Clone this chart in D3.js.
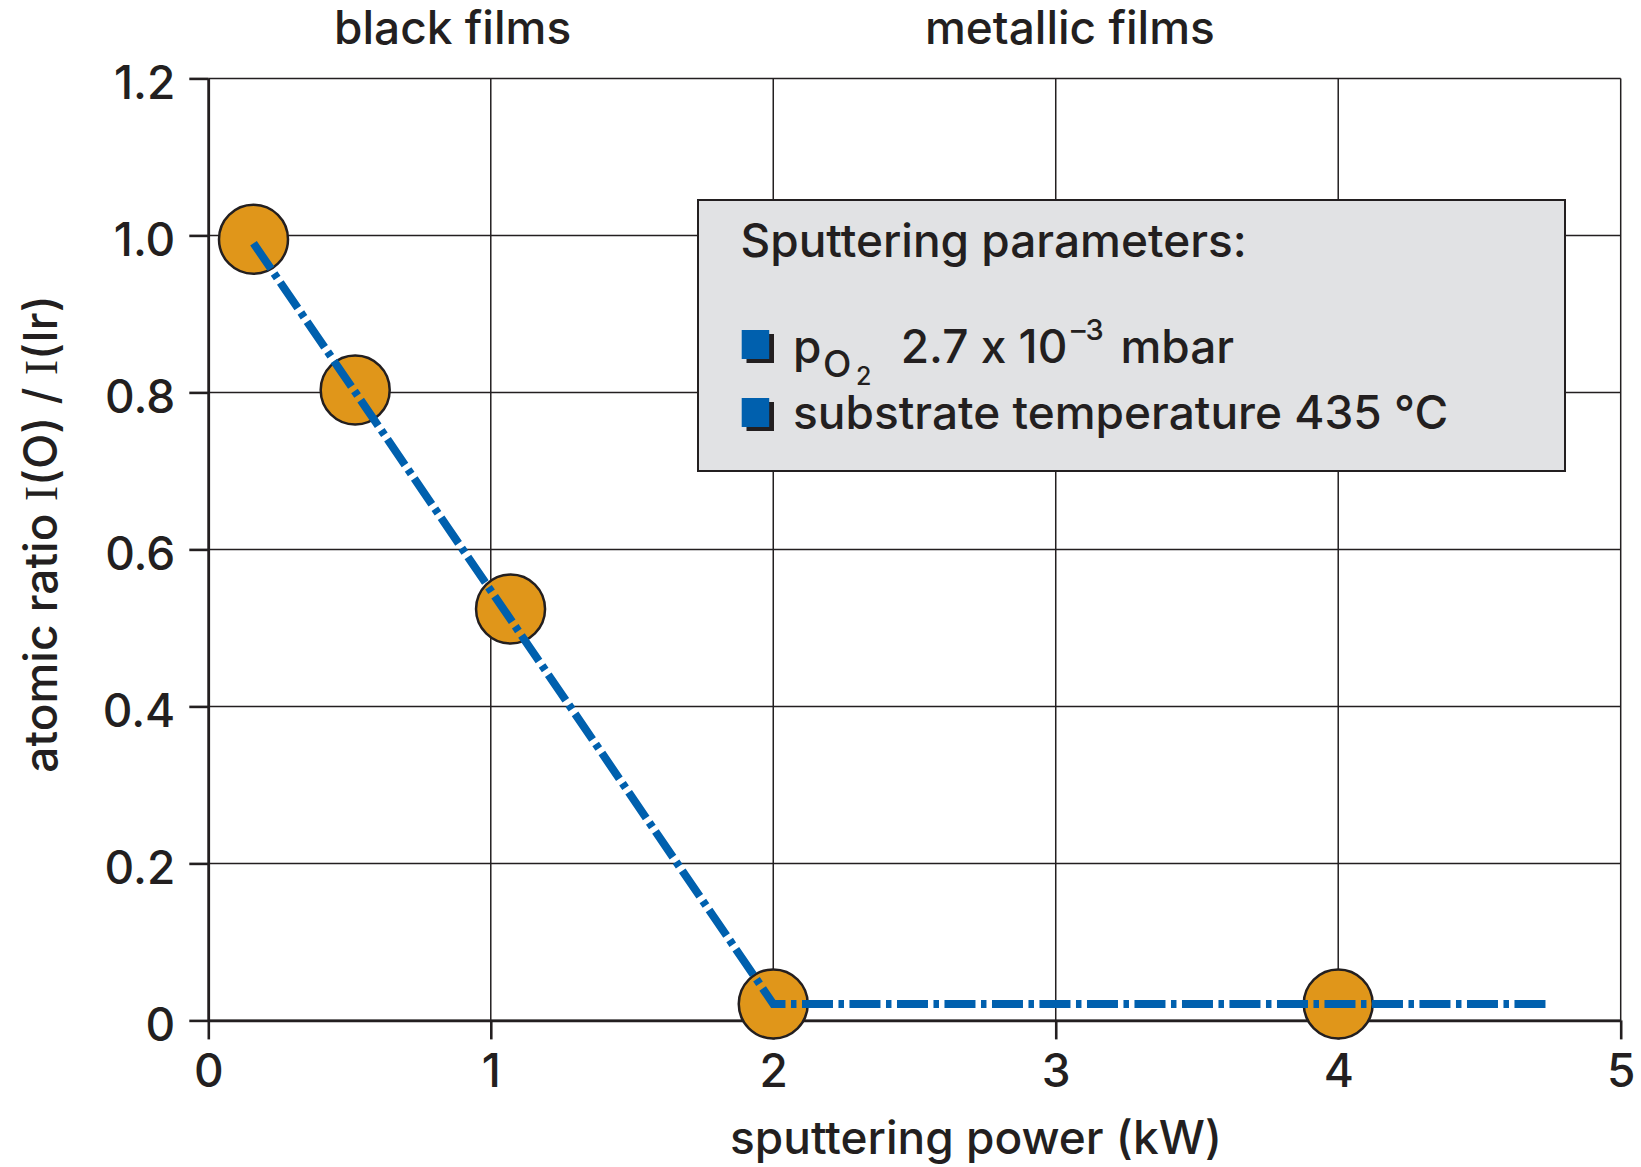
<!DOCTYPE html>
<html><head><meta charset="utf-8">
<script src="https://cdn.jsdelivr.net/npm/d3@7"></script>
<style>
body{margin:0;background:#fff}
text{font-family:Inter,"Liberation Sans",sans-serif;font-weight:525;fill:#231f20;font-feature-settings:"calt" 0}
</style>
</head><body><svg id="chart" width="1641" height="1167"></svg>
<script>
// ---- data ----
const powerKW  = [0.16, 0.52, 1.07, 2.0, 4.0];
const ratioOIr = [0.995, 0.803, 0.524, 0.021, 0.021];
const trendX = [0.16, 2.0, 4.75];
const trendY = [0.99, 0.021, 0.021];
const xTicks = [0, 1, 2, 3, 4, 5];
const yTicks = [0, 0.2, 0.4, 0.6, 0.8, 1.0, 1.2];
const regionLabels = ["black films", "metallic films"];
const regionAt = [0.865, 3.05];
const legendTitle = "Sputtering parameters:";

const ink = "#231f20", blue = "#0060ae", gold = "#e0961a", boxFill = "#e1e2e4";
const FS = 46;

const svg = d3.select("#chart");
const x = d3.scaleLinear().domain([0, 5]).range([208.3, 1620.7]);
const y = d3.scaleLinear().domain([0, 1.2]).range([1020.4, 78.4]);

// grid
const grid = svg.append("g");
grid.selectAll("line.v").data(xTicks).join("line").attr("class","v")
  .attr("x1", d => x(d)).attr("x2", d => x(d))
  .attr("y1", y(0)).attr("y2", y(1.2))
  .attr("stroke", ink).attr("stroke-width", 1.5);
grid.selectAll("line.h").data(yTicks).join("line").attr("class","h")
  .attr("x1", x(0)).attr("x2", x(5))
  .attr("y1", d => y(d)).attr("y2", d => y(d))
  .attr("stroke", ink).attr("stroke-width", 1.5);

// axes
const yAxis = svg.append("g").attr("transform", `translate(${x(0)},0)`)
  .call(d3.axisLeft(y).tickValues(yTicks).tickSize(19).tickSizeOuter(0).tickPadding(14)
    .tickFormat(d => d === 0 ? "0" : d3.format(".1f")(d)));
yAxis.selectAll("text").attr("dy", "20px");
const xAxis = svg.append("g").attr("transform", `translate(0,${y(0)})`)
  .call(d3.axisBottom(x).tickValues(xTicks).tickSize(19).tickSizeOuter(0).tickPadding(15)
    .tickFormat(d3.format("d")));
[xAxis, yAxis].forEach(a => {
  a.select(".domain").attr("stroke", ink).attr("stroke-width", 2.6);
  a.selectAll(".tick line").attr("stroke", ink).attr("stroke-width", 2.6);
  a.selectAll("text").attr("font-size", FS).attr("font-family", null).attr("fill", ink);
});

// points
svg.append("g").selectAll("circle").data(powerKW).join("circle")
  .attr("cx", d => x(d)).attr("cy", (d, i) => y(ratioOIr[i]))
  .attr("r", 34.5).attr("fill", gold).attr("stroke", ink).attr("stroke-width", 2.5);

// trend line
const line = d3.line().x(d => x(d[0])).y(d => y(d[1]));
svg.append("path").datum(trendX.map((v, i) => [v, trendY[i]]))
  .attr("d", line).attr("fill", "none").attr("stroke", blue)
  .attr("stroke-width", 8).attr("stroke-dasharray", "31 5.5 5.5 5.5");

// region labels
svg.append("g").selectAll("text").data(regionLabels).join("text")
  .attr("x", (d, i) => x(regionAt[i])).attr("y", 43.5)
  .attr("text-anchor", "middle").attr("font-size", FS).text(d => d);

// axis titles
svg.append("text").attr("x", 976).attr("y", 1154).attr("text-anchor", "middle")
  .attr("font-size", FS).text("sputtering power (kW)");
const yt = svg.append("text").attr("transform", "translate(57,534) rotate(-90)")
  .attr("text-anchor", "middle").attr("font-size", FS);
yt.append("tspan").text("atomic ratio ");
yt.append("tspan").attr("font-family", "Liberation Serif").attr("font-weight", 400).text("I");
yt.append("tspan").text("(O) / ");
yt.append("tspan").attr("font-family", "Liberation Serif").attr("font-weight", 400).text("I");
yt.append("tspan").text("(Ir)");

// legend box
const lg = svg.append("g");
lg.append("rect").attr("x", 698).attr("y", 200).attr("width", 867).attr("height", 271)
  .attr("fill", boxFill).attr("stroke", ink).attr("stroke-width", 2);
lg.append("text").attr("x", 740.5).attr("y", 256.7).attr("font-size", FS).text(legendTitle);
[330, 398].forEach(top => {
  lg.append("rect").attr("x", 746.5).attr("y", top + 4).attr("width", 27.5).attr("height", 29).attr("fill", ink);
  lg.append("rect").attr("x", 741.7).attr("y", top).attr("width", 27.5).attr("height", 29).attr("fill", blue);
});
// line 1: p_O2 2.7 x 10^-3 mbar (one text element, positioned tspans)
const l1 = lg.append("text").attr("font-size", FS);
l1.append("tspan").attr("x", 793).attr("y", 362.7).text("p");
l1.append("tspan").attr("x", 823).attr("y", 377).attr("font-size", 37).text("O");
l1.append("tspan").attr("x", 856).attr("y", 385).attr("font-size", 25).text("2");
l1.append("tspan").attr("x", 900.7).attr("y", 362.7).text("2.7 x 10");
l1.append("tspan").attr("x", 1071).attr("y", 340).attr("font-size", 29).text("\u20133");
l1.append("tspan").attr("x", 1120.5).attr("y", 362.7).text("mbar");
// line 2
lg.append("text").attr("x", 793).attr("y", 429).attr("font-size", FS).text("substrate temperature 435 \u00b0C");
</script></body></html>
